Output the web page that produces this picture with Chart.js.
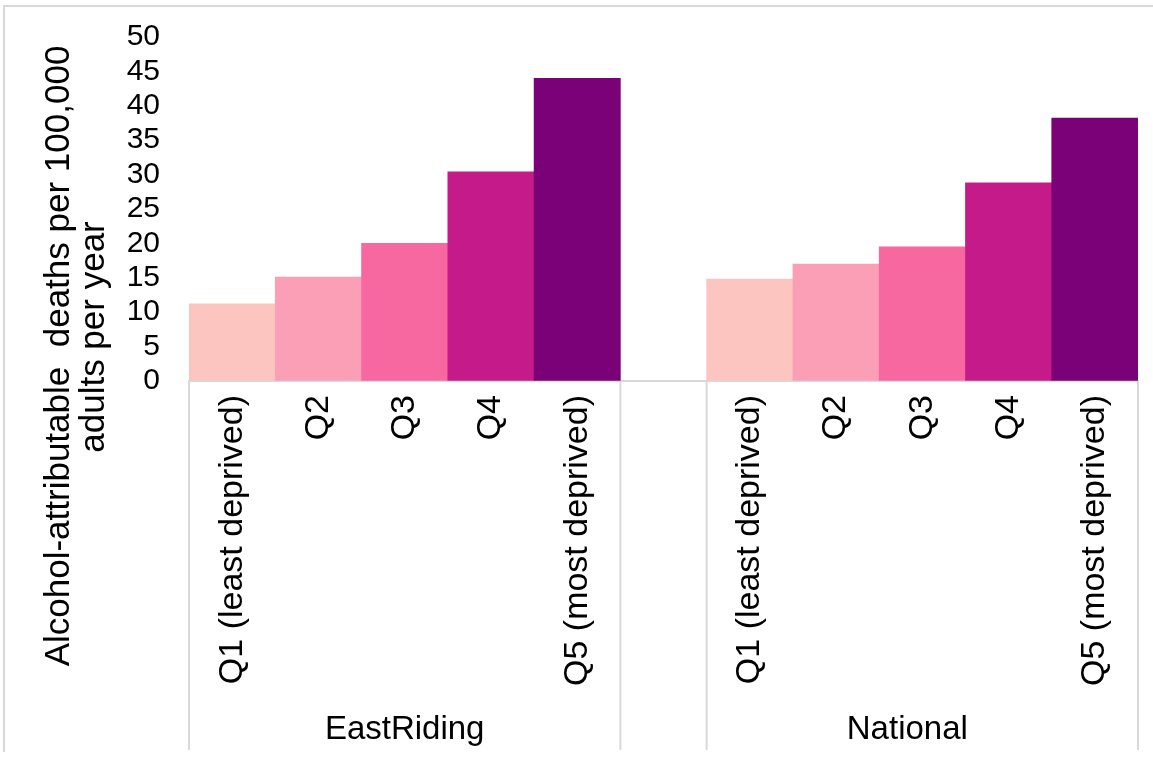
<!DOCTYPE html>
<html>
<head>
<meta charset="utf-8">
<script src="https://cdn.jsdelivr.net/npm/chart.js@4.4.1/dist/chart.umd.min.js"></script>
<style>
  body { margin: 0; background: #fff; overflow: hidden; }
  #frame { position: absolute; left: 3px; top: 5px; width: 1160px; height: 745px;
           border-top: 2px solid #d9d9d9; border-left: 2px solid #d9d9d9; }
  #wrap { position: absolute; left: 0; top: 0; width: 1153px; height: 760px; }
</style>
</head>
<body>
<div id="frame"></div>
<div id="wrap"><canvas id="chart" width="1153" height="760"></canvas></div>
<script>
var quintiles = ["Q1 (least deprived)", "Q2", "Q3", "Q4", "Q5 (most deprived)"];
var groups = ["EastRiding", "National"];
var eastRiding = [11.2, 15.1, 20.0, 30.4, 44.0];
var national = [14.8, 17.0, 19.5, 28.8, 38.2];
var quintileColors = ["#FCC5C0", "#FA9FB5", "#F768A1", "#C51B8A", "#7A0177"];
var yTicks = [0, 5, 10, 15, 20, 25, 30, 35, 40, 45, 50];
var yTitle = ["Alcohol-attributable  deaths per 100,000", "adults per year"];

var font = "'Liberation Sans', Arial, sans-serif";

// one gap category between the two groups
var labels = quintiles.concat([""], quintiles);
var values = eastRiding.concat([null], national);
var colors = quintileColors.concat(["#ffffff"], quintileColors);

// group separators, group names and the y title
var extras = {
  id: 'extras',
  afterDraw: function(chart) {
    var ctx = chart.ctx;
    var x = chart.scales.x;
    var area = chart.chartArea;
    var bottom = chart.height - 10;
    var half = (x.getPixelForValue(1) - x.getPixelForValue(0)) / 2;
    var seps = [area.left, x.getPixelForValue(4) + half, x.getPixelForValue(6) - half, area.right];
    ctx.save();
    ctx.strokeStyle = "#d9d9d9";
    ctx.lineWidth = 2;
    seps.forEach(function(s) {
      ctx.beginPath();
      ctx.moveTo(s, area.bottom);
      ctx.lineTo(s, bottom);
      ctx.stroke();
    });
    ctx.fillStyle = "#000";
    ctx.font = "33px " + font;
    ctx.textAlign = "center";
    ctx.textBaseline = "middle";
    ctx.fillText(groups[0], (seps[0] + seps[1]) / 2, 730);
    ctx.fillText(groups[1], (seps[2] + seps[3]) / 2 - 15, 730);

    ctx.font = "35px " + font;
    ctx.translate(59, 356);
    ctx.rotate(-Math.PI / 2);
    ctx.fillText(yTitle[0], 0, 0);
    ctx.fillText(yTitle[1], 19, 35);
    ctx.restore();
  }
};

new Chart(document.getElementById("chart"), {
  type: 'bar',
  data: {
    labels: labels,
    datasets: [{
      data: values,
      backgroundColor: colors,
      borderWidth: 0,
      categoryPercentage: 1.0,
      barPercentage: 1.0
    }]
  },
  options: {
    responsive: false,
    animation: false,
    layout: { padding: { top: 37, right: 15, bottom: 10, left: 0 } },
    plugins: { legend: { display: false }, tooltip: { enabled: false } },
    scales: {
      x: {
        grid: { display: false },
        border: { display: true, color: "#d9d9d9", width: 2 },
        ticks: {
          color: "#000",
          font: { family: font, size: 34 },
          minRotation: 90,
          maxRotation: 90,
          autoSkip: false,
          padding: 6
        },
        afterFit: function(scale) { scale.height = 369; }
      },
      y: {
        min: 0,
        max: 50,
        // invisible tick marks keep the labels off the plot
        grid: { display: true, drawOnChartArea: false, drawTicks: true, tickLength: 29, color: "rgba(0,0,0,0)" },
        border: { display: false },
        afterBuildTicks: function(scale) {
          scale.ticks = yTicks.map(function(v) { return { value: v }; });
        },
        ticks: {
          color: "#000",
          font: { family: font, size: 30 },
          autoSkip: false,
          padding: 0
        },
        afterFit: function(scale) { scale.width = 189; }
      }
    }
  },
  plugins: [extras]
});
</script>
</body>
</html>
